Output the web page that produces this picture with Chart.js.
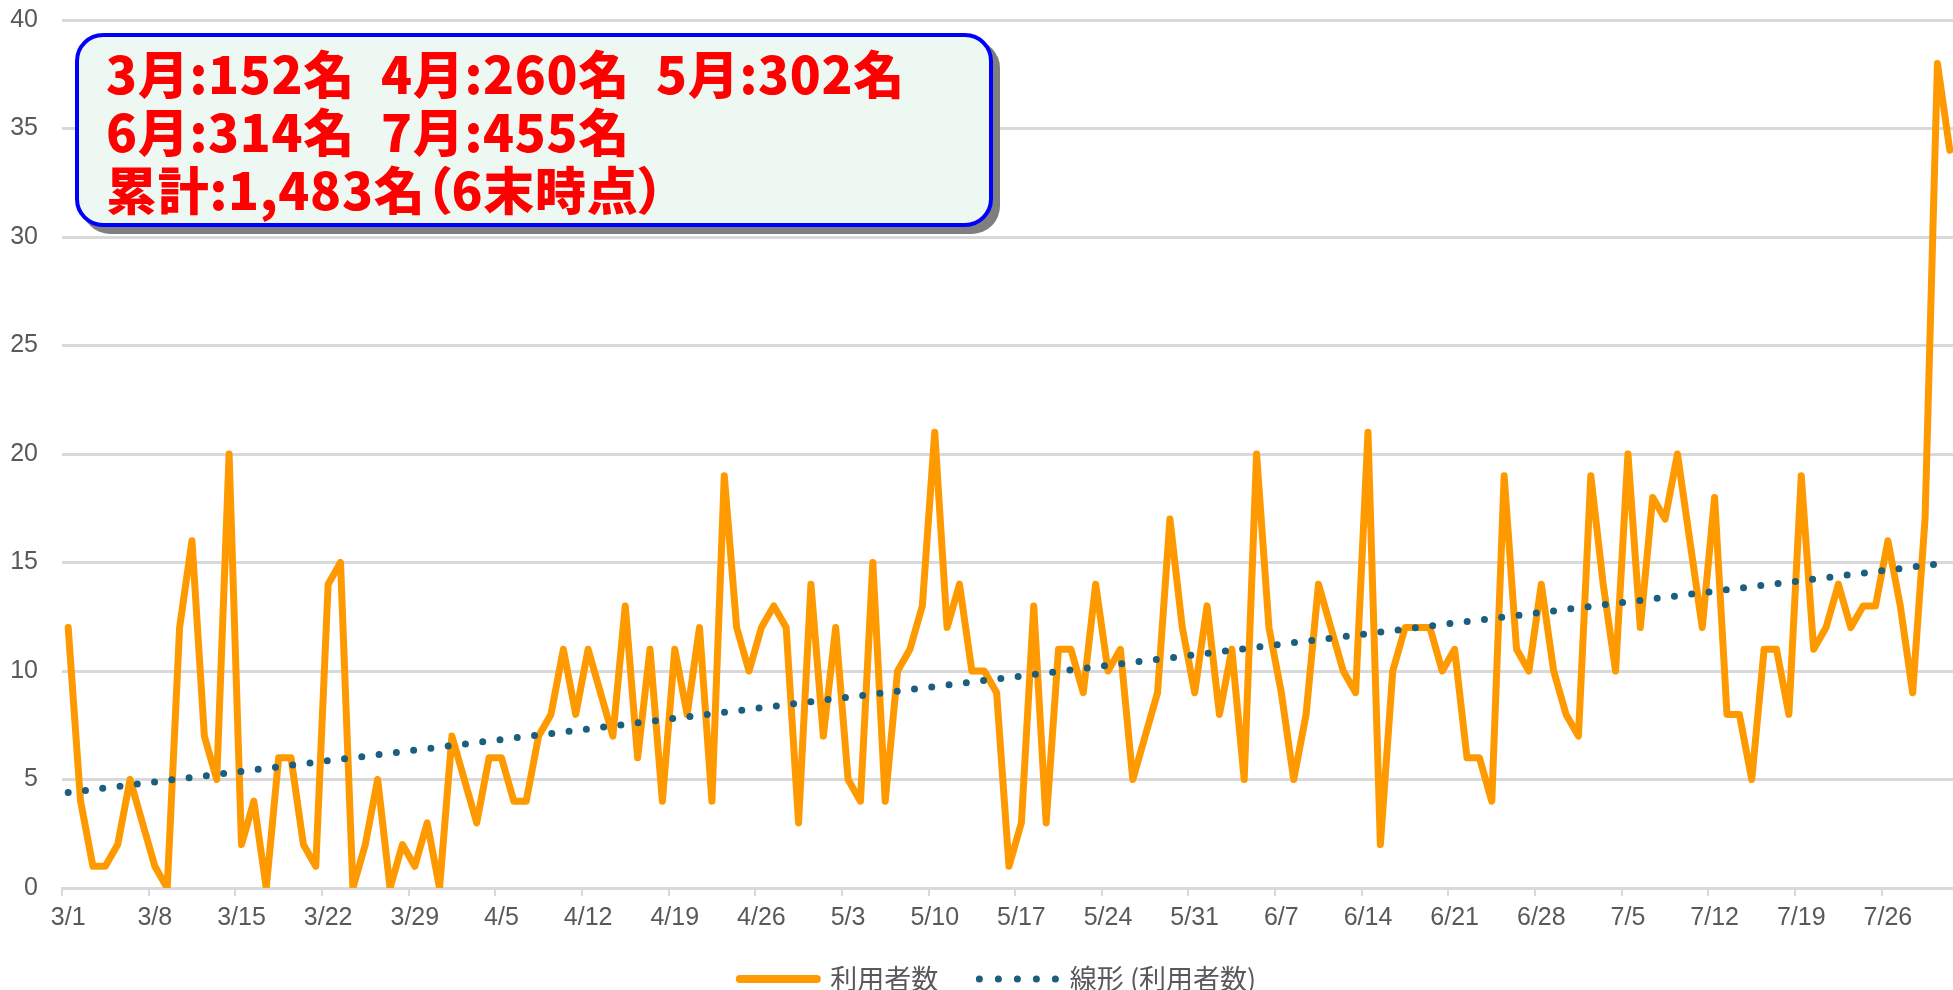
<!DOCTYPE html>
<html lang="ja">
<head>
<meta charset="utf-8">
<title>利用者数</title>
<script src="https://cdn.jsdelivr.net/npm/chart.js@4.4.1/dist/chart.umd.min.js"></script>
<style>
  html, body { margin: 0; padding: 0; background: #fff; overflow: hidden; }
  #wrap { position: relative; width: 1953px; height: 990px; overflow: hidden; }
  #c { position: absolute; left: 0; top: 0; }
  #note {
    position: absolute; left: 75px; top: 33px; width: 918px; height: 194px;
    box-sizing: border-box; border: 4px solid #0000ff; border-radius: 28px;
    background: #eef8f3; box-shadow: 7px 7px 0 #7f7f7f;
    padding: 6px 0 0 27px;
    font-family: "Noto Sans CJK JP", sans-serif; font-weight: 900;
    font-feature-settings: "palt"; letter-spacing: 0.7px;
    font-size: 51px; line-height: 58px; color: #ff0000; white-space: pre;
  }
  #note .g { display: inline-block; width: 275px; }
</style>
</head>
<body>
<div id="wrap">
  <canvas id="c" width="1996" height="990"></canvas>
  <div id="note"></div>
</div>
<script>
// daily users, 3/1 - 7/31
const marchUsers = [12, 4, 1, 1, 2, 5, 3, 1, 0, 12, 16, 7, 5, 20, 2, 4, 0, 6, 6, 2, 1, 14, 15, 0, 2, 5, 0, 2, 1, 3, 0];
const aprilUsers = [7, 5, 3, 6, 6, 4, 4, 7, 8, 11, 8, 11, 9, 7, 13, 6, 11, 4, 11, 8, 12, 4, 19, 12, 10, 12, 13, 12, 3, 14];
const mayUsers = [7, 12, 5, 4, 15, 4, 10, 11, 13, 21, 12, 14, 10, 10, 9, 1, 3, 13, 3, 11, 11, 9, 14, 10, 11, 5, 7, 9, 17, 12, 9];
const juneUsers = [13, 8, 11, 5, 20, 12, 9, 5, 8, 14, 12, 10, 9, 21, 2, 10, 12, 12, 12, 10, 11, 6, 6, 4, 19, 11, 10, 14, 10, 8];
const julyUsers = [7, 19, 14, 10, 20, 12, 18, 17, 20, 16, 12, 18, 8, 8, 5, 11, 11, 8, 19, 11, 12, 14, 12, 13, 13, 16, 13, 9, 17, 38, 34];

const months = [3, 4, 5, 6, 7];
const monthTotals = [152, 260, 302, 314, 455];
const cumulativeText = '1,483';

// linear trendline, read at first and last day
const trendStart = 4.4;
const trendEnd = 15.0;

const yTicks = [0, 5, 10, 15, 20, 25, 30, 35, 40];

const users = [].concat(marchUsers, aprilUsers, mayUsers, juneUsers, julyUsers);
const monthLists = [marchUsers, aprilUsers, mayUsers, juneUsers, julyUsers];
const labels = [];
monthLists.forEach((list, m) => {
    list.forEach((v, d) => labels.push(months[m] + '/' + (d + 1)));
});
const trend = users.map(() => null);
trend[0] = trendStart;
trend[trend.length - 1] = trendEnd;

// note box text
const note = document.getElementById('note');
const parts = months.map((m, i) => m + '月:' + monthTotals[i] + '名');
note.innerHTML =
    '<div><span class="g">' + parts[0] + '</span><span class="g">' + parts[1] + '</span><span>' + parts[2] + '</span></div>' +
    '<div><span class="g">' + parts[3] + '</span><span>' + parts[4] + '</span></div>' +
    '<div>累計:' + cumulativeText + '名（6末時点）</div>';

const orange = '#ff9900';
const teal = '#1b5e7e';
const gridGray = '#d9d9d9';
const textGray = '#595959';

// legend sits a bit right of the canvas centre
const shiftLegend = {
    id: 'shiftLegend',
    afterLayout(chart) {
        chart.legend.left += 20;
        chart.legend.right += 20;
    }
};

new Chart(document.getElementById('c'), {
    type: 'line',
    data: {
        labels: labels,
        datasets: [{
            label: '利用者数',
            data: users,
            borderColor: orange,
            borderWidth: 7,
            borderJoinStyle: 'round',
            borderCapStyle: 'round',
            pointRadius: 0,
            tension: 0,
            order: 1
        }, {
            label: '線形 (利用者数)',
            data: trend,
            spanGaps: true,
            borderColor: teal,
            borderWidth: 7,
            borderDash: [0, 17.4],
            borderCapStyle: 'round',
            pointRadius: 0,
            order: 0
        }]
    },
    options: {
        responsive: false,
        animation: false,
        devicePixelRatio: 1,
        layout: { padding: { top: 20, left: 0, right: 40, bottom: 0 } },
        plugins: {
            tooltip: { enabled: false },
            legend: {
                position: 'bottom',
                maxHeight: 990 - 888 - 42.5,
                labels: {
                    usePointStyle: true,
                    pointStyleWidth: 77,
                    padding: 35,
                    color: textGray,
                    font: { family: '"Noto Sans CJK JP", sans-serif', size: 27 },
                    generateLabels: () => [{
                        text: '利用者数 ', pointStyle: 'line', strokeStyle: orange, fillStyle: orange,
                        lineWidth: 8, lineCap: 'round', fontColor: textGray, datasetIndex: 0
                    }, {
                        text: '線形 (利用者数)', pointStyle: 'line', strokeStyle: teal, fillStyle: teal,
                        lineWidth: 7, lineCap: 'round', lineDash: [0, 19], fontColor: textGray, datasetIndex: 1
                    }]
                }
            }
        },
        scales: {
            x: {
                offset: true,
                afterFit: s => { s.height = 42.5; },
                grid: {
                    offset: true,
                    drawOnChartArea: false,
                    drawTicks: true,
                    tickLength: 8,
                    lineWidth: 2,
                    color: c => (c.index % 7 === 0 ? gridGray : 'rgba(0,0,0,0)')
                },
                border: { display: true, color: gridGray, width: 2 },
                ticks: {
                    autoSkip: false,
                    maxRotation: 0,
                    padding: 10,
                    color: textGray,
                    font: { family: '"Liberation Sans", Arial, sans-serif', size: 25, lineHeight: 1 },
                    callback: (v, i) => (i % 7 === 0 ? labels[i] : '')
                }
            },
            y: {
                min: 0,
                max: 40,
                afterFit: s => { s.width = 62; s.paddingTop = 0; s.paddingBottom = 0; },
                afterBuildTicks: s => { s.ticks = yTicks.map(v => ({ value: v })); },
                grid: { color: gridGray, lineWidth: 3, drawTicks: false },
                border: { display: false },
                ticks: {
                    padding: 24,
                    color: textGray,
                    font: { family: '"Liberation Sans", Arial, sans-serif', size: 25 }
                }
            }
        }
    },
    plugins: [shiftLegend]
});
</script>
</body>
</html>
